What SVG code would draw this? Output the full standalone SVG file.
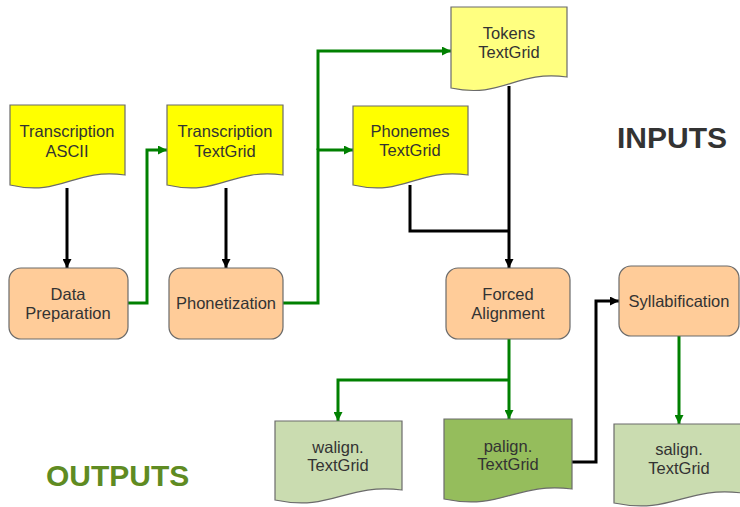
<svg xmlns="http://www.w3.org/2000/svg" width="740" height="507" viewBox="0 0 740 507">
<defs>
<marker id="ab" viewBox="0 0 10 10" refX="10" refY="5" markerWidth="3.2" markerHeight="3" orient="auto" markerUnits="strokeWidth"><path d="M0,0 L10,5 L0,10 z" fill="#000"/></marker>
<marker id="ag" viewBox="0 0 10 10" refX="10" refY="5" markerWidth="3.2" markerHeight="3" orient="auto" markerUnits="strokeWidth"><path d="M0,0 L10,5 L0,10 z" fill="#008000"/></marker>
</defs>
<style>
.doc{stroke:#6b6b6b;stroke-width:1.2}
.y{fill:#ffff00}
.ly{fill:#ffff80}
.proc{fill:#ffcc99;stroke:#6b6b6b;stroke-width:1.2}
.g1{fill:#cadcb0}
.g2{fill:#95bd5c}
.t{font-family:"Liberation Sans",Arial,sans-serif;font-size:16.5px;fill:#333;text-anchor:middle}
.big{font-family:"Liberation Sans",Arial,sans-serif;font-size:30px;font-weight:bold}
.cb{fill:none;stroke:#000;stroke-width:3}
.cg{fill:none;stroke:#008000;stroke-width:3}
</style>
<g id="connectors">
<path class="cb" d="M67,188 V268" marker-end="url(#ab)"/>
<path class="cb" d="M226,188 V268" marker-end="url(#ab)"/>
<path class="cg" d="M128,303 H147 V150 H167" marker-end="url(#ag)"/>
<path class="cg" d="M283,303 H318 V150 H353" marker-end="url(#ag)"/>
<path class="cg" d="M318,150 V51 H451" marker-end="url(#ag)"/>
<path class="cb" d="M509,86 V268" marker-end="url(#ab)"/>
<path class="cb" d="M410,185 V231 H509"/>
<path class="cg" d="M509,339 V419" marker-end="url(#ag)"/>
<path class="cg" d="M509,380 H338 V421" marker-end="url(#ag)"/>
<path class="cb" d="M572,462 H596 V301 H619" marker-end="url(#ab)"/>
<path class="cg" d="M679,336 V424" marker-end="url(#ag)"/>
</g>
<g id="transcription-ascii">
<path class="doc y" d="M10,105 H125 V175 C73,168 62,197 10,185 Z"/>
<text class="t" x="67" y="137">Transcription</text>
<text class="t" x="67" y="157">ASCII</text>
</g>
<g id="transcription-textgrid">
<path class="doc y" d="M167,105 H283 V175 C231,168 219,197 167,185 Z"/>
<text class="t" x="225" y="137">Transcription</text>
<text class="t" x="225" y="157">TextGrid</text>
</g>
<g id="tokens-textgrid">
<path class="doc ly" d="M451,7 H567 V77 C515,70 503,99 451,88 Z"/>
<text class="t" x="509" y="39">Tokens</text>
<text class="t" x="509" y="58">TextGrid</text>
</g>
<g id="phonemes-textgrid">
<path class="doc y" d="M353,106 H468 V175 C416,168 405,197 353,185 Z"/>
<text class="t" x="410" y="137">Phonemes</text>
<text class="t" x="410" y="156">TextGrid</text>
</g>
<g id="data-preparation">
<rect class="proc" x="9" y="268" width="119" height="71" rx="12"/>
<text class="t" x="68" y="300">Data</text>
<text class="t" x="68" y="319">Preparation</text>
</g>
<g id="phonetization">
<rect class="proc" x="169" y="268" width="114" height="71" rx="12"/>
<text class="t" x="226" y="309">Phonetization</text>
</g>
<g id="forced-alignment">
<rect class="proc" x="446" y="268" width="124" height="71" rx="12"/>
<text class="t" x="508" y="300">Forced</text>
<text class="t" x="508" y="319">Alignment</text>
</g>
<g id="syllabification">
<rect class="proc" x="619" y="266" width="120" height="70" rx="12"/>
<text class="t" x="679" y="307">Syllabification</text>
</g>
<g id="walign-textgrid">
<path class="doc g1" d="M275,421 H402 V490 C345,483 332,512 275,500 Z"/>
<text class="t" x="338" y="453">walign.</text>
<text class="t" x="338" y="471">TextGrid</text>
</g>
<g id="palign-textgrid">
<path class="doc g2" d="M444,419 H572 V489 C515,482 502,511 444,499 Z"/>
<text class="t" x="508" y="452">palign.</text>
<text class="t" x="508" y="470">TextGrid</text>
</g>
<g id="salign-textgrid">
<path class="doc g1" d="M614,424 H742 V493 C685,486 672,515 614,503 Z"/>
<text class="t" x="679" y="455">salign.</text>
<text class="t" x="679" y="474">TextGrid</text>
</g>
<text class="big" x="617" y="148" fill="#333">INPUTS</text>
<text class="big" x="46" y="486" fill="#5f8b22">OUTPUTS</text>
</svg>
